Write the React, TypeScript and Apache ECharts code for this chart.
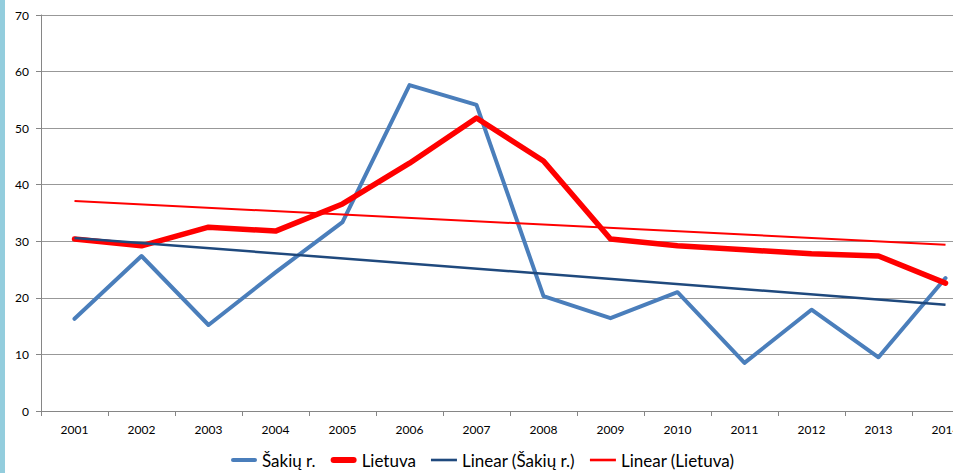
import React, { useEffect, useRef } from "react";
import * as echarts from "echarts";

const years = ["2001", "2002", "2003", "2004", "2005", "2006", "2007", "2008", "2009", "2010", "2011", "2012", "2013", "2014"];
const sakiai = [16.3, 27.4, 15.2, 24.5, 33.4, 57.6, 54.1, 20.3, 16.4, 21.0, 8.5, 17.9, 9.5, 23.5];
const lietuva = [30.4, 29.2, 32.5, 31.8, 36.6, 43.8, 51.8, 44.2, 30.4, 29.2, 28.5, 27.8, 27.4, 22.6];
const trendYears = ["2001", "2014"];
const trendSakiai = [30.6, 18.8];
const trendLietuva = [37.1, 29.4];
const seriesNames = ["Šakių r.", "Lietuva", "Linear (Šakių r.)", "Linear (Lietuva)"];

const FONT = "Lato, 'Open Sans', sans-serif";

export default function App() {
  const ref = useRef<HTMLDivElement>(null);
  useEffect(() => {
    document.body.style.margin = "0";
    const chart = echarts.init(ref.current!, null, { renderer: "svg" });
    const trendData = (vals: number[]) => trendYears.map((y, i) => [y, vals[i]]);
    chart.setOption({
      animation: false,
      backgroundColor: "#ffffff",
      textStyle: { fontFamily: FONT },
      grid: { left: 41, top: 15, bottom: 62, right: 1, containLabel: false },
      graphic: [
        { type: "rect", left: 0, top: 0, shape: { x: 0, y: 0, width: 5, height: 473 }, style: { fill: "#93CDDD" } },
      ],
      legend: {
        left: 226,
        top: 446,
        itemGap: 15,
        itemWidth: 26,
        itemHeight: 14,
        textStyle: { fontFamily: FONT, fontSize: 17, color: "#000", lineHeight: 18 },
        data: [
          { name: seriesNames[0], icon: "path://M2,0 H24 A2,2 0 0 1 24,4 H2 A2,2 0 0 1 2,0 Z" },
          { name: seriesNames[1], icon: "path://M3,0 H23 A3,3 0 0 1 23,6 H3 A3,3 0 0 1 3,0 Z" },
          { name: seriesNames[2], icon: "path://M0,0 H26 V2.6 H0 Z" },
          { name: seriesNames[3], icon: "path://M0,0 H26 V2.6 H0 Z" },
        ],
      },
      xAxis: {
        type: "category",
        data: years,
        boundaryGap: true,
        axisLine: { lineStyle: { color: "#868686", width: 1 } },
        axisTick: { show: true, interval: 0, length: 5, lineStyle: { color: "#868686" } },
        axisLabel: { interval: 0, margin: 12, color: "#000", fontSize: 12, fontFamily: FONT },
        splitLine: { show: false },
      },
      yAxis: {
        type: "value",
        min: 0,
        max: 70,
        interval: 10,
        axisLine: { show: true, lineStyle: { color: "#868686", width: 1 } },
        axisTick: { show: true, length: 5, lineStyle: { color: "#868686" } },
        axisLabel: { margin: 12, color: "#000", fontSize: 12, fontFamily: FONT },
        splitLine: { show: true, lineStyle: { color: "#989898", width: 1 } },
      },
      series: [
        {
          name: seriesNames[0],
          type: "line",
          data: sakiai,
          symbol: "none",
          color: "#4A7EBB",
          lineStyle: { width: 4, color: "#4A7EBB", cap: "round", join: "round" },
          z: 3,
        },
        {
          name: seriesNames[1],
          type: "line",
          data: lietuva,
          symbol: "none",
          color: "#FF0000",
          lineStyle: { width: 5.5, color: "#FF0000", cap: "round", join: "round" },
          z: 4,
        },
        {
          name: seriesNames[2],
          type: "line",
          data: trendData(trendSakiai),
          symbol: "none",
          color: "#1F497D",
          lineStyle: { width: 2.5, color: "#1F497D" },
          z: 5,
        },
        {
          name: seriesNames[3],
          type: "line",
          data: trendData(trendLietuva),
          symbol: "none",
          color: "#FF0000",
          lineStyle: { width: 2, color: "#FF0000" },
          z: 6,
        },
      ],
    });
    return () => chart.dispose();
  }, []);
  return (
    <div style={{ position: "fixed", left: 0, top: 0, width: 953, height: 473, overflow: "hidden" }}>
      <div ref={ref} style={{ width: 980, height: 473 }} />
    </div>
  );
}
